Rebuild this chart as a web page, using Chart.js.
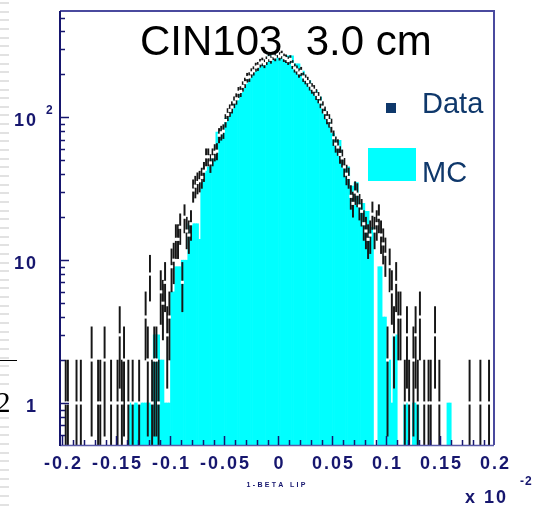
<!DOCTYPE html>
<html>
<head>
<meta charset="utf-8">
<script src="https://cdn.jsdelivr.net/npm/chart.js@4.4.1/dist/chart.umd.min.js"></script>
<style>
  html, body { margin: 0; padding: 0; background: #fff; }
  canvas { display: block; }
</style>
</head>
<body>
<canvas id="lipchart" width="537" height="506"></canvas>
<script>
// 1-BETA LIP, 200 bins from -0.2 to 0.2 (x 10^-2)
const binLow = -0.2;
const binWidth = 0.002;

const dataCounts = [
  0, 1, 1, 0, 0, 0, 1, 0, 1, 0, 0, 0, 0, 2, 0, 0, 1, 1, 0, 2,
  0, 0, 1, 0, 0, 1, 3, 1, 2, 0, 1, 0, 1, 0, 0, 1, 0, 0, 4, 2,
  8, 1, 2, 2, 1, 6, 5, 7, 3, 4, 9, 10, 14, 14, 17, 7, 20, 16, 15, 18,
  31, 33, 35, 36, 38, 42, 53, 53, 48, 53, 57, 58, 75, 78, 80, 95, 105, 112, 118, 128,
  135, 150, 152, 165, 175, 190, 192, 205, 212, 225, 228, 240, 245, 238, 250, 262, 255, 270, 265, 280,
  268, 275, 262, 258, 250, 255, 235, 222, 215, 205, 210, 192, 185, 178, 168, 160, 155, 145, 138, 128,
  118, 108, 100, 95, 88, 72, 65, 62, 55, 52, 45, 40, 38, 28, 25, 30, 29, 24, 22, 18,
  16, 14, 15, 21, 16, 18, 20, 15, 13, 11, 2, 9, 6, 3, 7, 4, 4, 0, 1, 3,
  1, 0, 2, 3, 1, 4, 0, 1, 0, 1, 1, 0, 3, 0, 1, 0, 0, 0, 0, 0,
  0, 0, 0, 0, 0, 0, 0, 0, 1, 0, 0, 0, 0, 1, 0, 0, 0, 1, 0, 0
];

const mcCounts = [
  0, 0, 0, 0, 0, 0, 0, 0, 0, 0, 0, 0, 0, 0, 0, 0, 0, 0, 0, 0,
  0, 0, 0, 0, 0, 0, 0, 0, 0, 0, 0, 1, 1, 1, 1, 1, 1, 1, 1, 1,
  1, 1, 3, 3, 3, 2, 2, 1, 1, 1, 6, 6, 9, 9, 9, 10, 10, 10, 18, 18,
  18, 18, 18, 14, 36, 36, 42, 45, 45, 53, 53, 79, 79, 81, 81, 98, 98, 109, 109, 131,
  131, 131, 150, 150, 172, 172, 191, 191, 211, 211, 226, 226, 243, 243, 243, 270, 272, 276, 281, 281,
  278, 270, 270, 270, 270, 270, 270, 237, 237, 237, 211, 211, 181, 181, 181, 155, 155, 155, 139, 139,
  112, 112, 98, 98, 77, 77, 69, 69, 69, 50, 45, 45, 45, 33, 33, 35, 35, 25, 25, 25,
  22, 22, 17, 17, 0, 0, 9, 9, 4, 4, 2, 2, 1, 3, 3, 0, 0, 0, 1, 1,
  0, 0, 1, 1, 1, 0, 0, 0, 0, 0, 0, 0, 0, 0, 0, 0, 0, 0, 1, 1,
  0, 0, 0, 0, 0, 0, 0, 0, 0, 0, 0, 0, 0, 0, 0, 0, 0, 0, 0, 0
];

const xMajorTicks = [-0.2, -0.15, -0.1, -0.05, 0, 0.05, 0.1, 0.15, 0.2];
const xTickLabels = ["-0.2", "-0.15", "-0.1", "-0.05", "0", "0.05", "0.1", "0.15", "0.2"];
const yMajorTicks = [1, 10, 100];
const yTickLabels = ["1", "10", "10"];
const yTickExponents = ["", "", "2"];

const titleText = "CIN103  3.0 cm";
const xAxisTitle = "1-BETA LIP";
const navy = "#16166e";

const centers = dataCounts.map((_, i) => binLow + binWidth * (i + 0.5));

const mcPoints = centers.map((x, i) => ({ x: x, y: mcCounts[i] > 0 ? mcCounts[i] : null }));
const errPoints = [];
const markPoints = [];
centers.forEach((x, i) => {
  const n = dataCounts[i];
  if (n <= 0) return;
  const e = Math.sqrt(n);
  errPoints.push({ x: x, y: [Math.max(n - e, 0.01), n + e] });
  markPoints.push({ x: x, y: n });
});

// text with manual letter spacing (ROOT style labels)
function drawText(ctx, txt, x, y, font, color, align, spacing) {
  ctx.font = font;
  ctx.fillStyle = color;
  ctx.textAlign = "left";
  ctx.textBaseline = "alphabetic";
  const sp = spacing || 0;
  const chars = Array.from(txt);
  const widths = chars.map(c => ctx.measureText(c).width);
  const total = widths.reduce((a, b) => a + b, 0) + sp * (chars.length - 1);
  let cx = align === "center" ? x - total / 2 : align === "right" ? x - total : x;
  chars.forEach((c, i) => {
    ctx.fillText(c, cx, y);
    cx += widths[i] + sp;
  });
}

const rootFrame = {
  id: "rootFrame",
  beforeDraw(chart) {
    const ctx = chart.ctx;
    ctx.save();
    ctx.fillStyle = "#fff";
    ctx.fillRect(0, 0, chart.width, chart.height);
    // slide remnants on the left edge
    ctx.fillStyle = "#e2e2e2";
    for (let y = 2; y < chart.height; y += 8.65) ctx.fillRect(0, Math.round(y), 9, 2);
    ctx.fillStyle = "#fff";
    ctx.fillRect(0, 385, 14, 30);
    ctx.fillStyle = "#000";
    ctx.fillRect(0, 360, 17, 1);
    ctx.font = "29px 'Liberation Serif'";
    ctx.fillText("2", -4, 412);
    ctx.restore();
  },
  afterDatasetsDraw(chart) {
    const ctx = chart.ctx;
    const { left, right, top, bottom } = chart.chartArea;
    const xs = chart.scales.x, ys = chart.scales.y;
    ctx.save();

    // frame
    ctx.lineWidth = 2;
    ctx.strokeStyle = "#4a4a9e";
    ctx.beginPath();
    ctx.moveTo(left, top); ctx.lineTo(right, top); ctx.lineTo(right, bottom);
    ctx.stroke();
    ctx.lineWidth = 1.5;
    ctx.strokeStyle = "#5a5aa8";
    ctx.beginPath();
    ctx.moveTo(left, bottom + 0.5); ctx.lineTo(right, bottom + 0.5);
    ctx.stroke();
    ctx.lineWidth = 2;
    ctx.strokeStyle = navy;
    ctx.beginPath();
    ctx.moveTo(left, top); ctx.lineTo(left, bottom + 1);
    ctx.stroke();

    // y ticks (log)
    ctx.lineWidth = 1.5;
    ctx.strokeStyle = navy;
    for (let d = 0.1; d <= 100; d *= 10) {
      for (let m = 1; m <= 9; m++) {
        const v = m * d;
        if (v < ys.min || v > ys.max) continue;
        const py = Math.round(ys.getPixelForValue(v)) + 0.5;
        ctx.beginPath();
        ctx.moveTo(left, py);
        ctx.lineTo(left + (m === 1 ? 9 : 5), py);
        ctx.stroke();
      }
    }
    // x ticks
    for (let i = -20; i <= 20; i++) {
      const px = Math.round(xs.getPixelForValue(i * 0.01)) + 0.5;
      if (px < left || px > right) continue;
      ctx.beginPath();
      ctx.moveTo(px, bottom);
      ctx.lineTo(px, bottom - (i % 5 === 0 ? 9 : 5));
      ctx.stroke();
    }

    // tick labels
    const tickFont = "bold 18px 'Liberation Sans'";
    xMajorTicks.forEach((v, i) => {
      drawText(ctx, xTickLabels[i], xs.getPixelForValue(v), 469, tickFont, navy, "center", 2);
    });
    yMajorTicks.forEach((v, i) => {
      const py = ys.getPixelForValue(v);
      drawText(ctx, yTickLabels[i], 36, py + 9, tickFont, navy, "right", 2);
      if (yTickExponents[i]) {
        drawText(ctx, yTickExponents[i], 46, py - 3, "bold 12px 'Liberation Sans'", navy, "left");
      }
    });

    // axis title and multiplier
    drawText(ctx, xAxisTitle, 276, 487, "bold 7px 'Liberation Sans'", navy, "center", 2.3);
    drawText(ctx, "x 10", 465, 503, "bold 18px 'Liberation Sans'", navy, "left", 2);
    drawText(ctx, "-2", 520, 485, "bold 12px 'Liberation Sans'", navy, "left", 1);

    // legend
    const legendColor = "#0f386b";
    ctx.fillStyle = legendColor;
    ctx.fillRect(386, 103, 10, 10);
    drawText(ctx, chart.data.datasets[2].label, 422, 113, "29px 'Liberation Sans'", legendColor);
    ctx.fillStyle = chart.data.datasets[0].backgroundColor;
    ctx.fillRect(368, 148, 48, 33);
    drawText(ctx, chart.data.datasets[0].label, 422, 182, "29px 'Liberation Sans'", legendColor);

    // title
    ctx.font = "42px 'Liberation Sans'";
    ctx.fillStyle = "#000";
    ctx.fillText(titleText, 140, 55);
    ctx.restore();
  }
};

new Chart(document.getElementById("lipchart"), {
  type: "bar",
  data: {
    datasets: [
      {
        label: "MC",
        data: mcPoints,
        backgroundColor: "#00ffff",
        borderWidth: 0,
        barPercentage: 1,
        categoryPercentage: 1,
        grouped: false,
        order: 3
      },
      {
        label: "Data errors",
        data: errPoints,
        backgroundColor: "#161616",
        borderWidth: 0,
        barThickness: 1.3,
        grouped: false,
        order: 2
      },
      {
        type: "scatter",
        label: "Data",
        data: markPoints,
        pointStyle: "rect",
        pointRadius: 2.2,
        backgroundColor: "#ffffff",
        borderWidth: 0,
        order: 1
      }
    ]
  },
  options: {
    responsive: false,
    animation: false,
    events: [],
    layout: { padding: { left: 60, right: 43, top: 11, bottom: 61 } },
    plugins: { legend: { display: false }, tooltip: { enabled: false } },
    scales: {
      x: { type: "linear", offset: false, min: -0.2023, max: 0.1996, display: false, ticks: { stepSize: 0.01 } },
      y: { type: "logarithmic", min: 0.508, max: 556, display: false }
    }
  },
  plugins: [rootFrame]
});
</script>
</body>
</html>
